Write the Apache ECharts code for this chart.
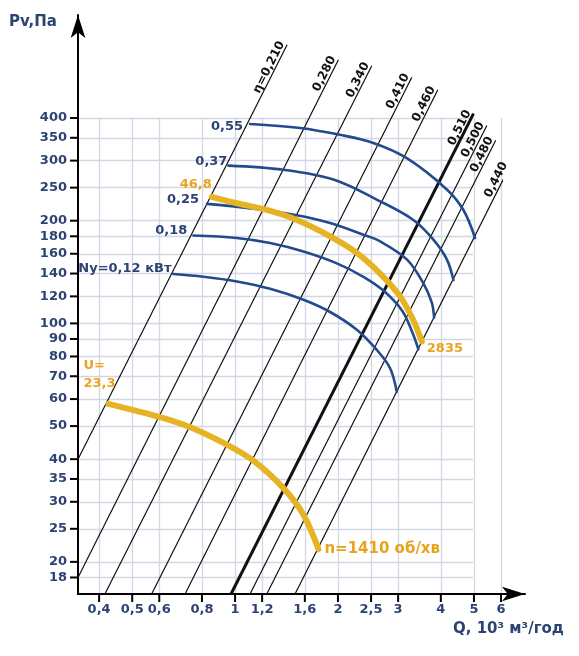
<!DOCTYPE html>
<html>
<head>
<meta charset="utf-8">
<script src="https://cdn.jsdelivr.net/npm/echarts@6/dist/echarts.min.js"></script>
<style>
  html, body { margin: 0; padding: 0; background: #fff; }
  #chart { width: 579px; height: 656px; }
</style>
</head>
<body>
<div id="chart"></div>
<script>
// axis ticks (log-log chart)
const qTicks = [0.4, 0.5, 0.6, 0.8, 1, 1.2, 1.6, 2, 2.5, 3, 4, 5, 6];
const pTicks = [18, 20, 25, 30, 35, 40, 50, 60, 70, 80, 90, 100, 120, 140, 160, 180, 200, 250, 300, 350, 400];
const qMin = 0.347, qMax = 6, qGridEnd = 5;
const pMin = 16.1, pMax = 400;

// efficiency lines: lower and upper end points [Q, Pv]
const etaLabels = ["η=0,210", "0,280", "0,340", "0,410", "0,460", "0,510", "0,500", "0,480", "0,440"];
const etaLow = [[0.347, 40], [0.347, 18], [0.416, 16.1], [0.570, 16.1], [0.714, 16.1], [0.973, 16.1], [1.106, 16.1], [1.238, 16.1], [1.498, 16.1]];
const etaHigh = [[1.42, 656], [2.006, 593], [2.512, 569], [3.29, 527], [3.92, 484], [4.985, 412], [5.454, 380], [5.79, 344], [6.38, 290]];

// motor power curves Ny, кВт
const ny055 = [[1.106, 384], [1.55, 374], [2.029, 357], [2.539, 338], [3.181, 305], [4.165, 247], [4.658, 215], [5.039, 178]];
const ny037 = [[0.956, 290], [1.385, 282], [1.94, 264], [2.657, 228], [3.325, 201], [3.805, 176], [4.165, 154], [4.354, 134]];
const ny025 = [[0.828, 224], [1.129, 217], [1.516, 207.5], [1.897, 197], [2.374, 182], [2.657, 174], [3.181, 154], [3.557, 131], [3.764, 115], [3.823, 104]];
const ny018 = [[0.755, 181], [1.012, 178], [1.266, 172], [1.585, 162.5], [1.985, 150], [2.374, 137], [2.711, 125], [3.082, 109], [3.296, 94.5], [3.439, 84]];
const ny012 = [[0.66, 139.5], [0.808, 137], [1.012, 132.7], [1.266, 126.3], [1.585, 117.3], [1.897, 108], [2.271, 95.8], [2.598, 83.6], [2.842, 73.9], [2.973, 63]];

// fan curves at two speeds
const n1410 = [[0.426, 58.1], [0.603, 53.1], [0.739, 49.6], [0.946, 44.1], [1.131, 39.6], [1.385, 32.9], [1.585, 27.5], [1.753, 21.8]];
const n2835 = [[0.855, 235], [1.012, 225], [1.238, 215], [1.516, 201], [1.897, 180], [2.271, 161], [2.657, 140], [3.04, 120], [3.325, 102], [3.519, 88.5]];

const navy = "#2c4374";
const blue = "#244a8e";
const gold = "#e5b324";
const goldText = "#e9a41e";
const font = "DejaVu Sans";

const lg = Math.log10;
const pt = d => [lg(d[0]), lg(d[1])];
const fmt = v => String(Math.round(Math.pow(10, v) * 1000) / 1000).replace(".", ",");

// plot area (px) and the longer axis lines that end in arrows
const plotL = 78, plotR = 501, plotT = 118, plotB = 594;
const arrowR = 525, arrowT = 15;
const xSpan = lg(qMax) - lg(qMin);
const ySpan = lg(pMax) - lg(pMin);
const xAxisEnd = lg(qMin) + xSpan * (arrowR - plotL) / (plotR - plotL);
const yAxisEnd = lg(pMin) + ySpan * (plotB - arrowT) / (plotB - plotT);

var series = [];

// efficiency lines
for (var i = 0; i < etaLabels.length; i++) {
  series.push({
    type: "line",
    xAxisIndex: 1,
    yAxisIndex: 1,
    data: [
      pt(etaLow[i]),
      {
        value: pt(etaHigh[i]),
        label: {
          show: true,
          formatter: etaLabels[i],
          rotate: 63.43,
          position: [0, 0],
          align: "right",
          verticalAlign: "bottom",
          color: "#111",
          fontFamily: font,
          fontWeight: "bold",
          fontSize: 12,
        },
      },
    ],
    symbol: "circle",
    symbolSize: 0,
    clip: false,
    silent: true,
    animation: false,
    lineStyle: { color: "#111", width: i == 5 ? 3 : 1.2 },
    z: 2,
  });
}

function curve(pts, color, width, labels) {
  var data = pts.map(pt);
  for (const k in labels) {
    data[k] = { value: data[k], label: Object.assign({
      show: true,
      fontFamily: font,
      fontWeight: "bold",
      fontSize: 13,
    }, labels[k]) };
  }
  return {
    type: "line",
    xAxisIndex: 1,
    yAxisIndex: 1,
    data: data,
    smooth: 0.35,
    symbol: "circle",
    symbolSize: 0,
    clip: false,
    silent: true,
    animation: false,
    lineStyle: { color: color, width: width, cap: "round" },
    z: color == gold ? 4 : 3,
  };
}

series.push(curve(ny055, blue, 2.6, { 0: { formatter: "0,55", position: "left", distance: 7, offset: [0, 3], color: navy } }));
series.push(curve(ny037, blue, 2.6, { 0: { formatter: "0,37", position: "left", distance: 1, offset: [0, -4], color: navy } }));
series.push(curve(ny025, blue, 2.6, { 0: { formatter: "0,25", position: "left", distance: 8, offset: [0, -4], color: navy } }));
series.push(curve(ny018, blue, 2.6, { 0: { formatter: "0,18", position: "left", distance: 6, offset: [0, -5], color: navy } }));
series.push(curve(ny012, blue, 2.6, { 0: { formatter: "Ny=0,12 кВт", position: "left", distance: 2, offset: [0, -5], color: navy } }));
series.push(curve(n1410, gold, 6, {
  0: { formatter: "U=\n23,3", position: "top", align: "left", offset: [-25, -6], lineHeight: 18, color: goldText },
  7: { formatter: "n=1410 об/хв", position: "right", distance: 6, fontSize: 15, color: goldText },
}));
series.push(curve(n2835, gold, 6, {
  0: { formatter: "46,8", position: "left", distance: 0, offset: [0, -12], color: goldText },
  9: { formatter: "2835", position: "right", distance: 5, offset: [0, 7], color: goldText },
}));

const tickLabel = {
  formatter: fmt,
  color: navy,
  fontFamily: font,
  fontWeight: "bold",
  fontSize: 13,
};
const gridLine = { show: true, lineStyle: { color: "#d3d7e3", width: 1.3 } };
const arrowLine = { show: true, onZero: false, symbol: ["none", "arrow"], symbolSize: [11, 23], lineStyle: { color: "#000", width: 2 } };
const hidden = { axisLine: { show: false, onZero: false }, axisTick: { show: false }, axisLabel: { show: false } };

const titles = [
  { type: "text", left: 9, top: 15, style: { text: "Pv,Па", font: "bold 15px 'DejaVu Sans'", fill: navy } },
  { type: "text", left: 453, top: 622, style: { text: "Q, 10³ м³/год", font: "bold 15px 'DejaVu Sans'", fill: navy } },
];

var option = {
  backgroundColor: "#fff",
  animation: false,
  grid: [
    // axes with arrows and labels
    { left: plotL, right: 579 - arrowR, top: arrowT, bottom: 656 - plotB, outerBoundsMode: "none" },
    // plot area: series and vertical grid lines
    { left: plotL, right: 579 - plotR, top: plotT, bottom: 656 - plotB, outerBoundsMode: "none" },
    // horizontal grid lines stop at Q = 5
    { left: plotL, right: 579 - 473, top: plotT, bottom: 656 - plotB, outerBoundsMode: "none" },
  ],
  xAxis: [
    {
      gridIndex: 0,
      type: "value",
      min: lg(qMin),
      max: xAxisEnd,
      axisLine: arrowLine,
      axisTick: { show: false },
      axisLabel: Object.assign({ customValues: qTicks.map(lg), margin: 9 }, tickLabel),
      splitLine: { show: false },
    },
    Object.assign({
      gridIndex: 1,
      type: "value",
      min: lg(qMin),
      max: lg(qMax),
      splitLine: gridLine,
    }, hidden, { axisTick: { show: false, customValues: qTicks.map(lg) }, axisLabel: { show: false, customValues: qTicks.map(lg) } }),
    { gridIndex: 2, type: "value", min: lg(qMin), max: lg(qGridEnd), show: false },
  ],
  yAxis: [
    {
      gridIndex: 0,
      type: "value",
      min: lg(pMin),
      max: yAxisEnd,
      axisLine: arrowLine,
      axisTick: { show: false },
      axisLabel: Object.assign({ customValues: pTicks.map(lg), margin: 11 }, tickLabel),
      splitLine: { show: false },
    },
    Object.assign({
      gridIndex: 1,
      type: "value",
      min: lg(pMin),
      max: lg(pMax),
      splitLine: { show: false },
    }, hidden),
    Object.assign({
      gridIndex: 2,
      type: "value",
      min: lg(pMin),
      max: lg(pMax),
      splitLine: gridLine,
    }, hidden, { axisTick: { show: false, customValues: pTicks.map(lg) }, axisLabel: { show: false, customValues: pTicks.map(lg) } }),
  ],
  graphic: titles,
  series: series,
};

var chart = echarts.init(document.getElementById("chart"));
chart.setOption(option);

// outward tick marks, placed through the plot grid's own scale
var ticks = [];
pTicks.forEach(function (p) {
  const c = chart.convertToPixel({ gridIndex: 1 }, [lg(qMin), lg(p)]);
  ticks.push({ type: "line", z: 100, silent: true, shape: { x1: c[0] - 8, y1: c[1], x2: c[0], y2: c[1] }, style: { stroke: "#000", lineWidth: 2 } });
});
qTicks.forEach(function (q) {
  const c = chart.convertToPixel({ gridIndex: 1 }, [lg(q), lg(pMin)]);
  ticks.push({ type: "line", z: 100, silent: true, shape: { x1: c[0], y1: c[1], x2: c[0], y2: c[1] + 8 }, style: { stroke: "#000", lineWidth: 2 } });
});
chart.setOption({ graphic: titles.concat(ticks) });
</script>
</body>
</html>
